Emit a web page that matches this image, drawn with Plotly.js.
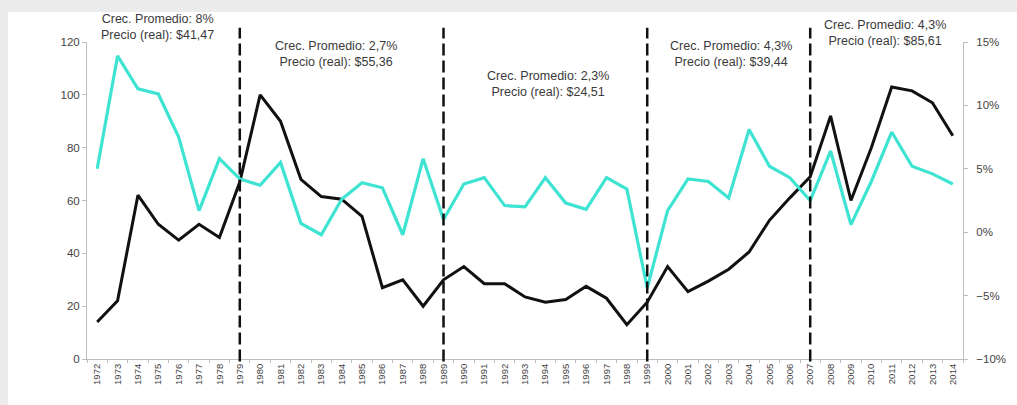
<!DOCTYPE html>
<html>
<head>
<meta charset="utf-8">
<script src="https://cdn.plot.ly/plotly-3.0.1.min.js"></script>
<style>
  html, body { margin: 0; padding: 0; width: 1017px; height: 405px; background: #ececec; overflow: hidden; }
  #chart { position: absolute; left: 8px; top: 12px; width: 1009px; height: 393px; background: #fff; }
</style>
</head>
<body>
<div id="chart"></div>
<script>
// Categories (years)
const years = ["1972","1973","1974","1975","1976","1977","1978","1979","1980","1981",
  "1982","1983","1984","1985","1986","1987","1988","1989","1990","1991",
  "1992","1993","1994","1995","1996","1997","1998","1999","2000","2001",
  "2002","2003","2004","2005","2006","2007","2008","2009","2010","2011",
  "2012","2013","2014"];

// Real price (left axis)
const precio = [14, 22, 62, 51, 45, 51, 46, 67, 100, 90,
  68, 61.5, 60.5, 54, 27, 30, 20, 30, 35, 28.5,
  28.5, 23.5, 21.5, 22.5, 27.5, 23, 13, 21.5, 35, 25.5,
  29.5, 34, 40.5, 52.5, 61, 69, 92, 60, 80, 103,
  101.5, 97, 84.5];

// Growth rate, % (right axis)
const crecimiento = [5, 13.9, 11.3, 10.9, 7.5, 1.7, 5.8, 4.2, 3.7, 5.5,
  0.7, -0.2, 2.6, 3.9, 3.5, -0.2, 5.8, 1.0, 3.8, 4.3,
  2.1, 2.0, 4.3, 2.3, 1.8, 4.3, 3.4, -4.4, 1.7, 4.2,
  4.0, 2.7, 8.1, 5.2, 4.3, 2.5, 6.4, 0.6, 4.0, 7.9,
  5.2, 4.6, 3.8];

// Period separators
const cortes = ["1979", "1989", "1999", "2007"];

// Period annotation texts
const periodos = [
  "Crec. Promedio: 8%<br>Precio (real): $41,47",
  "Crec. Promedio: 2,7%<br>Precio (real): $55,36",
  "Crec. Promedio: 2,3%<br>Precio (real): $24,51",
  "Crec. Promedio: 4,3%<br>Precio (real): $39,44",
  "Crec. Promedio: 4,3%<br>Precio (real): $85,61"
];
const periodoPos = [[0.081, 1.047], [0.284, 0.962], [0.526, 0.8675], [0.735, 0.9606], [0.911, 1.028]];

const traces = [
  {
    x: years, y: crecimiento, type: "scatter", mode: "lines", yaxis: "y2",
    line: { color: "#3ee3d2", width: 3.2 }, hoverinfo: "x+y"
  },
  {
    x: years, y: precio, type: "scatter", mode: "lines", yaxis: "y",
    line: { color: "#111111", width: 3 }, hoverinfo: "x+y"
  }
];

const shapes = cortes.map(c => ({
  type: "line", xref: "x", yref: "paper", layer: "above",
  x0: years.indexOf(c), x1: years.indexOf(c), y0: -0.008, y1: 1.045,
  line: { color: "#111111", width: 2.5, dash: "12px,5px" }
}));

const annotations = periodos.map((t, i) => ({
  text: t, xref: "paper", yref: "paper", x: periodoPos[i][0], y: periodoPos[i][1],
  xanchor: "center", yanchor: "middle", showarrow: false, align: "center",
  font: { family: "Liberation Sans, Arial, sans-serif", size: 12.5, color: "#3a3a3a" }
}));

const layout = {
  width: 1009, height: 393,
  margin: { l: 79, r: 54, t: 30, b: 46, pad: 0 },
  paper_bgcolor: "#ffffff", plot_bgcolor: "#ffffff",
  showlegend: false,
  font: { family: "Liberation Sans, Arial, sans-serif", color: "#555" },
  xaxis: {
    type: "category", range: [-0.5, 42.5], showgrid: false, zeroline: false,
    showline: true, linecolor: "#bdbdbd", linewidth: 1,
    ticks: "outside", ticklen: 3, tickcolor: "#bdbdbd", tickson: "boundaries",
    tickangle: -90, tickfont: { size: 9.5, color: "#444" }
  },
  yaxis: {
    range: [0, 120], dtick: 20, showgrid: false, zeroline: false,
    showline: true, linecolor: "#bdbdbd", linewidth: 1,
    ticks: "outside", ticklen: 4, tickcolor: "#bdbdbd",
    tickfont: { size: 11.5, color: "#444" }
  },
  yaxis2: {
    overlaying: "y", side: "right", range: [-10, 15], dtick: 5, ticksuffix: "%",
    showgrid: false, zeroline: false,
    showline: true, linecolor: "#bdbdbd", linewidth: 1,
    ticks: "outside", ticklen: 4, tickcolor: "#bdbdbd", ticklabelstandoff: 6,
    tickfont: { size: 11.5, color: "#444" }
  },
  shapes: shapes,
  annotations: annotations
};

Plotly.newPlot("chart", traces, layout, { displayModeBar: false, staticPlot: true });
</script>
</body>
</html>
